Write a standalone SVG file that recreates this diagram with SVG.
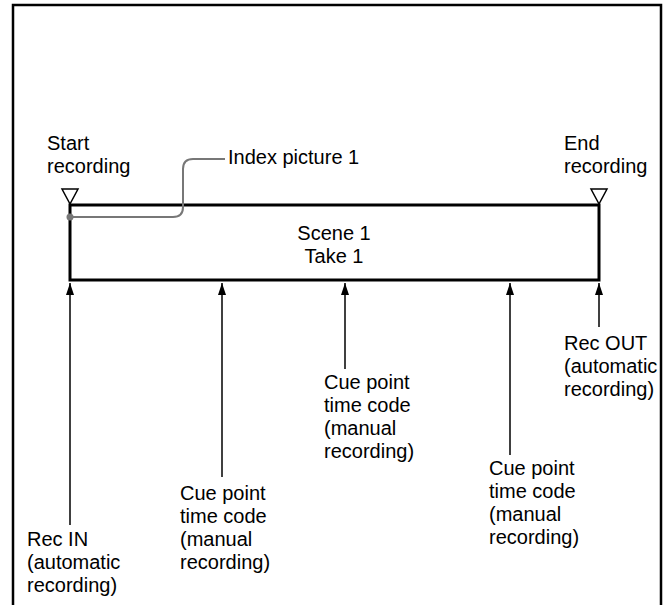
<svg xmlns="http://www.w3.org/2000/svg" width="668" height="605" viewBox="0 0 668 605">
<style>
text{font-family:"Liberation Sans",Arial,Helvetica,sans-serif;font-size:20px;fill:#000}
.c{text-anchor:middle}
.arr{stroke:#000;stroke-width:1.5;fill:none}
.tri{fill:#fff;stroke:#000;stroke-width:1.5}
</style>
<defs>
<marker id="ah" viewBox="0 0 12 8" refX="12" refY="4" markerWidth="12" markerHeight="8" markerUnits="userSpaceOnUse" orient="auto">
<path d="M0,0 L12,4 L0,8 Z" fill="#000"/>
</marker>
</defs>
<rect width="668" height="605" fill="#fff"/>
<path d="M13,605 V5 H661 V605" fill="none" stroke="#000" stroke-width="2.5"/>

<g id="take">
<rect x="70" y="205" width="529" height="75" fill="#fff" stroke="#000" stroke-width="3"/>
<text class="c" x="334" y="240">Scene 1</text>
<text class="c" x="334" y="263">Take 1</text>
</g>

<g id="start">
<text x="47" y="150">Start</text>
<text x="47" y="173">recording</text>
<polygon class="tri" points="62,189 78,189 70,204"/>
</g>

<g id="end">
<text x="564" y="150">End</text>
<text x="564" y="173">recording</text>
<polygon class="tri" points="591,189 607,189 599,204"/>
</g>

<g id="index">
<path d="M70,217 H173 Q183,217 183,207 V169 Q183,159 193,159 H225" fill="none" stroke="#777" stroke-width="2"/>
<circle cx="70" cy="217" r="3.5" fill="#777"/>
<text x="228" y="164">Index picture 1</text>
</g>

<g id="connectors">
<line class="arr" x1="70" y1="525" x2="70" y2="283" marker-end="url(#ah)"/>
<line class="arr" x1="222" y1="477" x2="222" y2="283" marker-end="url(#ah)"/>
<line class="arr" x1="345" y1="369" x2="345" y2="283" marker-end="url(#ah)"/>
<line class="arr" x1="510" y1="455" x2="510" y2="283" marker-end="url(#ah)"/>
<line class="arr" x1="599" y1="327" x2="599" y2="283" marker-end="url(#ah)"/>
</g>

<g id="rec-in">
<text x="27" y="546">Rec IN</text>
<text x="27" y="569">(automatic</text>
<text x="27" y="592">recording)</text>
</g>

<g id="cue1">
<text x="180" y="500">Cue point</text>
<text x="180" y="523">time code</text>
<text x="180" y="546">(manual</text>
<text x="180" y="569">recording)</text>
</g>

<g id="cue2">
<text x="324" y="389">Cue point</text>
<text x="324" y="412">time code</text>
<text x="324" y="435">(manual</text>
<text x="324" y="458">recording)</text>
</g>

<g id="cue3">
<text x="489" y="475">Cue point</text>
<text x="489" y="498">time code</text>
<text x="489" y="521">(manual</text>
<text x="489" y="544">recording)</text>
</g>

<g id="rec-out">
<text x="564" y="350">Rec OUT</text>
<text x="564" y="373">(automatic</text>
<text x="564" y="396">recording)</text>
</g>
</svg>
